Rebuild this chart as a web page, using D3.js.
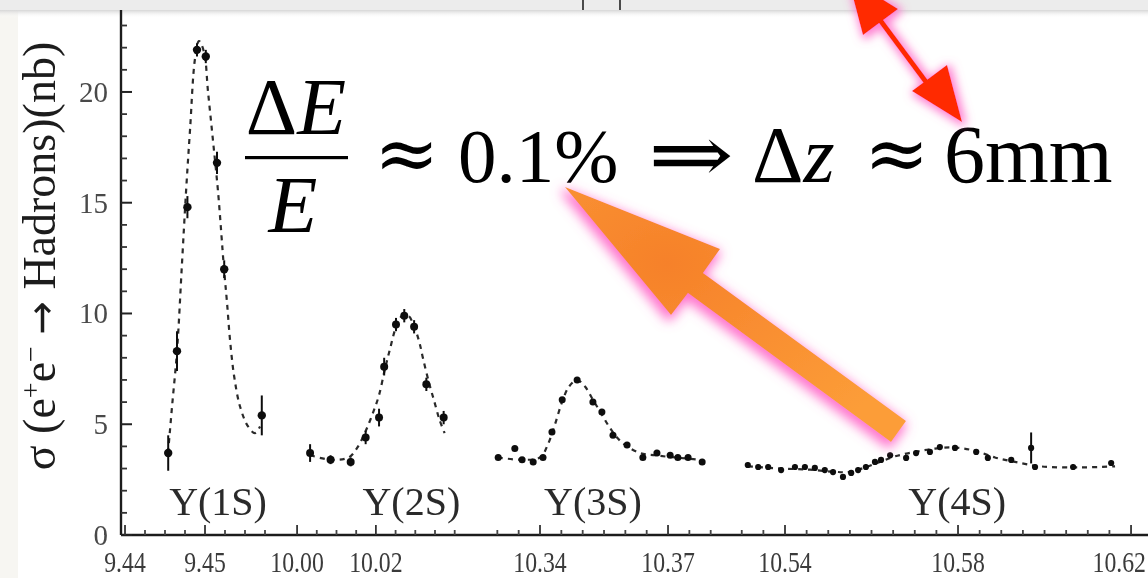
<!DOCTYPE html>
<html><head><meta charset="utf-8">
<script src="https://cdn.jsdelivr.net/npm/d3@7"></script>
<style>html,body{margin:0;padding:0;background:#fff;overflow:hidden}</style>
</head><body>
<svg id="c" width="1148" height="578"></svg>
<script>
// ---------- data ----------
const yMajorTicks = [0, 5, 10, 15, 20];
const yMinorTicks = [1,2,3,4,6,7,8,9,11,12,13,14,16,17,18,19,21,22,23];
const xTickValues = [9.44, 9.45, 10.00, 10.02, 10.34, 10.37, 10.54, 10.58, 10.62];
const xTickLabels = ["9.44", "9.45", "10.00", "10.02", "10.34", "10.37", "10.54", "10.58", "10.62"];
const xMinorTicks = [9.4375, 9.4425, 9.445, 9.4475, 9.4525, 9.455, 9.4575,
  10.005, 10.01, 10.015, 10.025, 10.03, 10.035, 10.04,
  10.33, 10.335, 10.345, 10.35, 10.355, 10.36, 10.365, 10.375, 10.38,
  10.53, 10.535, 10.545, 10.55, 10.555, 10.56, 10.565, 10.57, 10.575, 10.585, 10.59,
  10.595, 10.60, 10.605, 10.61, 10.615, 10.625];
// broken energy axis: segment break points (GeV)
const axisBreaks = [9.435, 9.458, 9.998, 10.04, 10.328, 10.38, 10.528, 10.63];

// Upsilon(1S)
const e1S = [9.4454, 9.4465, 9.4478, 9.4490, 9.4501, 9.4515, 9.4524, 9.4571];
const s1S = [3.7, 8.3, 14.8, 21.9, 21.6, 16.8, 12.0, 5.4];
const err1S = [0.8, 0.9, 0.5, 0.3, 0.3, 0.5, 0.4, 0.9];
const fitE1S = [9.44538, 9.44588, 9.4465, 9.44713, 9.44763, 9.44813, 9.44875, 9.44925, 9.44988, 9.45038,
  9.4510, 9.45163, 9.45238, 9.45275, 9.45313, 9.45363, 9.45438, 9.45538, 9.45625, 9.45688];
const fitS1S = [3.7, 5.8, 8.3, 12.3, 15.5, 18.3, 21.5, 22.3, 21.8, 20.0,
  17.8, 15.5, 12.0, 10.5, 8.8, 7.2, 5.8, 4.9, 4.6, 4.9];

// Upsilon(2S)
const e2S = [10.0033, 10.0085, 10.0136, 10.0174, 10.0208, 10.0221, 10.0251, 10.0272, 10.0297, 10.0328, 10.0372];
const s2S = [3.7, 3.4, 3.3, 4.4, 5.3, 7.6, 9.5, 9.9, 9.4, 6.8, 5.3];
const err2S = [0.4, 0.2, 0.2, 0.3, 0.4, 0.4, 0.3, 0.3, 0.3, 0.3, 0.3];
const fitE2S = [10.00333, 10.00846, 10.01308, 10.01513, 10.01718, 10.01923, 10.02077, 10.02231, 10.02359, 10.02513,
  10.02667, 10.02821, 10.02974, 10.03103, 10.03205, 10.03359, 10.03487, 10.03615, 10.03744];
const fitS2S = [3.6, 3.4, 3.5, 3.9, 4.6, 5.5, 6.3, 7.5, 8.4, 9.4,
  9.9, 9.9, 9.4, 8.7, 7.9, 6.8, 6.0, 5.2, 4.6];

// Upsilon(3S)
const e3S = [10.3302, 10.3341, 10.3358, 10.3384, 10.3407, 10.3428, 10.3452, 10.3487, 10.3524,
  10.3545, 10.3571, 10.3604, 10.3641, 10.3674, 10.3705, 10.3723, 10.3747, 10.3780];
const s3S = [3.5, 3.9, 3.4, 3.3, 3.5, 4.65, 6.1, 7.0, 6.0, 5.55, 4.5, 4.06, 3.5, 3.7, 3.6, 3.5, 3.5, 3.3];
const fitE3S = [10.33016, 10.33531, 10.34, 10.34187, 10.34352, 10.34516, 10.3468, 10.34867, 10.35055,
  10.35242, 10.3543, 10.35617, 10.35805, 10.36039, 10.36344, 10.36695, 10.37164, 10.3775];
const fitS3S = [3.5, 3.4, 3.5, 4.1, 5.0, 6.0, 6.7, 7.0, 6.7, 6.1, 5.5, 4.9, 4.4, 4.0, 3.7, 3.6, 3.5, 3.4];

// Upsilon(4S)
const e4S = [10.5314, 10.5338, 10.5361, 10.5391, 10.5423, 10.5446, 10.5469, 10.5492, 10.5511, 10.5534,
  10.5553, 10.5569, 10.5587, 10.5608, 10.5622, 10.5643, 10.5680, 10.5703, 10.5735, 10.5758,
  10.5793, 10.5842, 10.5869, 10.5923, 10.5969, 10.5978, 10.6066, 10.6154];
const s4S = [3.16, 3.07, 3.07, 2.93, 3.07, 3.07, 3.03, 2.93, 2.84, 2.62,
  2.8, 2.93, 3.07, 3.3, 3.39, 3.6, 3.48, 3.7, 3.75, 3.97,
  3.93, 3.75, 3.48, 3.39, 3.93, 3.07, 3.07, 3.25];
const fitE4S = [10.53145, 10.53884, 10.54578, 10.55156, 10.55503, 10.5585, 10.56197, 10.56543, 10.57006,
  10.57468, 10.57931, 10.58393, 10.58855, 10.59318, 10.5990, 10.60821, 10.6163];
const fitS4S = [3.1, 3.0, 2.95, 2.85, 2.85, 3.05, 3.3, 3.55, 3.75, 3.9, 3.95, 3.8, 3.5, 3.3, 3.1, 3.05, 3.1];

const resLabels = ["\u03A5(1S)", "\u03A5(2S)", "\u03A5(3S)", "\u03A5(4S)"];
const resLabelE = [9.45163, 10.029, 10.3524, 10.5798];

// ---------- layout ----------
const W = 1148, H = 578;
const svg = d3.select("#c");
const defs = svg.append("defs");

const x = d3.scaleLinear().domain(axisBreaks)
  .range([85, 269, 289.2, 454.7, 488.8, 710.7, 733.1, 1174.3]);
const y = d3.scaleLinear().domain([0, 23.7]).range([535, 10]);

// filters
const blur = defs.append("filter").attr("id", "scan").attr("x", "-5%").attr("y", "-5%").attr("width", "110%").attr("height", "110%");
blur.append("feGaussianBlur").attr("stdDeviation", 0.55);

function glow(id, color, sd, dx, dy) {
  const f = defs.append("filter").attr("id", id).attr("x", "-40%").attr("y", "-40%").attr("width", "180%").attr("height", "180%");
  f.append("feMorphology").attr("in", "SourceAlpha").attr("operator", "dilate").attr("radius", 2).attr("result", "d");
  f.append("feGaussianBlur").attr("in", "d").attr("stdDeviation", sd).attr("result", "b");
  f.append("feOffset").attr("in", "b").attr("dx", dx).attr("dy", dy).attr("result", "o");
  f.append("feFlood").attr("flood-color", color).attr("flood-opacity", 0.85);
  f.append("feComposite").attr("in2", "o").attr("operator", "in").attr("result", "g");
  const m = f.append("feMerge");
  m.append("feMergeNode").attr("in", "g");
  m.append("feMergeNode").attr("in", "SourceGraphic");
}
glow("glowO", "#ff5cc4", 6, -2, 4);
glow("glowR", "#ff66c8", 5, 2, 2);

const shadow = defs.append("linearGradient").attr("id", "topShadow").attr("x1", 0).attr("y1", 0).attr("x2", 0).attr("y2", 1);
shadow.append("stop").attr("offset", 0).attr("stop-color", "#d6d6d6");
shadow.append("stop").attr("offset", 1).attr("stop-color", "#ffffff").attr("stop-opacity", 0);

const og = defs.append("radialGradient").attr("id", "orangeG").attr("cx", 0.3).attr("cy", 0.3).attr("r", 0.8);
og.append("stop").attr("offset", 0).attr("stop-color", "#f6812a");
og.append("stop").attr("offset", 1).attr("stop-color", "#fc9d38");

// background / slide frame
svg.append("rect").attr("width", W).attr("height", H).attr("fill", "#f7f6f2");
svg.append("rect").attr("x", 18).attr("y", 10).attr("width", W - 18).attr("height", H - 10).attr("fill", "#ffffff");
svg.append("rect").attr("x", 0).attr("y", 0).attr("width", W).attr("height", 10).attr("fill", "#ececec");
svg.append("rect").attr("x", 0).attr("y", 10).attr("width", W).attr("height", 8).attr("fill", "url(#topShadow)");
svg.append("g").selectAll("line").data([583, 620]).join("line")
  .attr("x1", d => d).attr("x2", d => d).attr("y1", 0).attr("y2", 10)
  .attr("stroke", "#222").attr("stroke-width", 1.6);

// ---------- chart (scanned look) ----------
const chart = svg.append("g").attr("filter", "url(#scan)");

// axes
chart.append("line").attr("x1", 121).attr("x2", 121).attr("y1", y(23.7)).attr("y2", y(0))
  .attr("stroke", "#1e1e1e").attr("stroke-width", 2.4);
chart.append("line").attr("x1", 121).attr("x2", W).attr("y1", y(0)).attr("y2", y(0))
  .attr("stroke", "#1e1e1e").attr("stroke-width", 2.4);

chart.append("g").selectAll("line").data(yMajorTicks).join("line")
  .attr("x1", 121).attr("x2", 132).attr("y1", d => y(d)).attr("y2", d => y(d))
  .attr("stroke", "#222").attr("stroke-width", 2);
chart.append("g").selectAll("line").data(yMinorTicks).join("line")
  .attr("x1", 121).attr("x2", 127).attr("y1", d => y(d)).attr("y2", d => y(d))
  .attr("stroke", "#333").attr("stroke-width", 1.8);

chart.append("g").selectAll("line").data(xTickValues).join("line")
  .attr("x1", d => x(d)).attr("x2", d => x(d)).attr("y1", y(0)).attr("y2", y(0) - 10)
  .attr("stroke", "#333").attr("stroke-width", 1.8);
chart.append("g").selectAll("line").data(xMinorTicks).join("line")
  .attr("x1", d => x(d)).attr("x2", d => x(d)).attr("y1", y(0)).attr("y2", y(0) - 5)
  .attr("stroke", "#444").attr("stroke-width", 1.8);

// tick labels
chart.append("g").selectAll("text").data(yMajorTicks).join("text")
  .attr("x", 108).attr("y", d => y(d) + 10)
  .attr("text-anchor", "end")
  .attr("font-family", "'Liberation Serif', serif").attr("font-size", 29)
  .attr("fill", "#4a4a4a").text(d => d);

const lastIdx = xTickValues.length - 1;
chart.append("g").selectAll("text").data(xTickValues).join("text")
  .attr("transform", (d, i) => `translate(${i === lastIdx ? 1146 : x(d)},${572}) scale(0.82,1)`)
  .attr("text-anchor", (d, i) => i === lastIdx ? "end" : "middle")
  .attr("font-family", "'Liberation Serif', serif").attr("font-size", 29)
  .attr("fill", "#3a3a3a").text((d, i) => xTickLabels[i]);

// y-axis title
const yt = chart.append("text")
  .attr("transform", "translate(55,256) rotate(-90)")
  .attr("text-anchor", "middle")
  .attr("font-family", "'Liberation Serif', serif").attr("font-size", 46)
  .attr("fill", "#1c1c1c");
yt.append("tspan").text("\u03C3 (e");
yt.append("tspan").attr("dy", -15).attr("font-size", 28).text("+");
yt.append("tspan").attr("dy", 15).text("e");
yt.append("tspan").attr("dy", -15).attr("font-size", 28).text("\u2212");
yt.append("tspan").attr("dy", 15).text(" ");
yt.append("tspan").attr("font-family", "'DejaVu Sans', sans-serif").attr("font-size", 40).text("\u2192");
yt.append("tspan").text(" Hadrons)(nb)");

// fit curves (dashed)
const fits = [[fitE1S, fitS1S], [fitE2S, fitS2S], [fitE3S, fitS3S], [fitE4S, fitS4S]];
const line = d3.line().x(d => x(d[0])).y(d => y(d[1])).curve(d3.curveCatmullRom);
fits.forEach(([E, S]) => {
  chart.append("path").datum(E.map((e, i) => [e, S[i]]))
    .attr("d", line).attr("fill", "none")
    .attr("stroke", "#2a2a2a").attr("stroke-width", 2.2).attr("stroke-dasharray", "5,5");
});

// data points
const series = [
  {E: e1S, S: s1S, err: err1S, r: 4.2},
  {E: e2S, S: s2S, err: err2S, r: 4},
  {E: e3S, S: s3S, err: null, r: 3.5},
  {E: e4S, S: s4S, err: null, r: 3.1}
];
series.forEach(s => {
  const pts = s.E.map((e, i) => ({e, v: s.S[i], er: s.err ? s.err[i] : 0.12}));
  const g = chart.append("g");
  g.selectAll("line").data(pts).join("line")
    .attr("x1", d => x(d.e)).attr("x2", d => x(d.e))
    .attr("y1", d => y(d.v - d.er)).attr("y2", d => y(d.v + d.er))
    .attr("stroke", "#111").attr("stroke-width", 2);
  g.selectAll("circle").data(pts).join("circle")
    .attr("cx", d => x(d.e)).attr("cy", d => y(d.v)).attr("r", s.r)
    .attr("fill", "#0d0d0d");
});
// the large error bar near 10.597 in the 4S scan
chart.append("line").attr("x1", x(e4S[24])).attr("x2", x(e4S[24]))
  .attr("y1", y(s4S[24] - 0.7)).attr("y2", y(s4S[24] + 0.7))
  .attr("stroke", "#111").attr("stroke-width", 2);

// resonance labels
chart.append("g").selectAll("text").data(resLabels).join("text")
  .attr("x", (d, i) => x(resLabelE[i])).attr("y", y(0) - 20)
  .attr("text-anchor", "middle")
  .attr("font-family", "'Liberation Serif', serif").attr("font-size", 40)
  .attr("fill", "#2c2c2c").text(d => d);

// ---------- overlay formula ----------
const f = svg.append("g").attr("font-family", "'Liberation Serif', 'DejaVu Serif', serif").attr("fill", "#000");
f.append("text").attr("x", 296).attr("y", 134).attr("text-anchor", "middle").attr("font-size", 80)
  .html('\u0394<tspan font-style="italic">E</tspan>');
f.append("rect").attr("x", 245).attr("y", 156).attr("width", 103).attr("height", 3.2).attr("fill", "#000");
f.append("text").attr("x", 293).attr("y", 232).attr("text-anchor", "middle").attr("font-size", 80)
  .attr("font-style", "italic").text("E");
f.append("text").attr("x", 374).attr("y", 180).attr("font-size", 78)
  .attr("font-family", "'DejaVu Serif', serif").attr("font-weight", 300).text("\u2248");
f.append("text").attr("x", 458).attr("y", 182).attr("font-size", 77).text("0.1%");
f.append("text").attr("x", 648).attr("y", 182).attr("font-size", 80)
  .attr("textLength", 86).attr("lengthAdjust", "spacingAndGlyphs")
  .attr("font-family", "'DejaVu Serif', serif").text("\u21D2");
f.append("text").attr("x", 752).attr("y", 182).attr("font-size", 80)
  .html('\u0394<tspan font-style="italic">z</tspan>');
f.append("text").attr("x", 864).attr("y", 180).attr("font-size", 78)
  .attr("font-family", "'DejaVu Serif', serif").text("\u2248");
f.append("text").attr("x", 944).attr("y", 182).attr("font-size", 82).text("6mm");

// ---------- arrows ----------
// orange arrow pointing to "0.1%"
svg.append("path")
  .attr("d", "M565,187 L720,249 L703,273 L906,421 L891,442 L688,293 L671,315 Z")
  .attr("fill", "url(#orangeG)").attr("filter", "url(#glowO)");
// red double arrow to "6mm"
svg.append("g").attr("filter", "url(#glowR)").call(g => {
  g.append("line").attr("x1", 880).attr("y1", 20).attr("x2", 932).attr("y2", 90)
    .attr("stroke", "#ff2a00").attr("stroke-width", 5);
  g.append("path").attr("d", "M962,122 L947,65 L912,91 Z").attr("fill", "#ff2a00");
  g.append("path").attr("d", "M848,-22 L898,9 L863,35 Z").attr("fill", "#ff2a00");
});
</script>
</body></html>
